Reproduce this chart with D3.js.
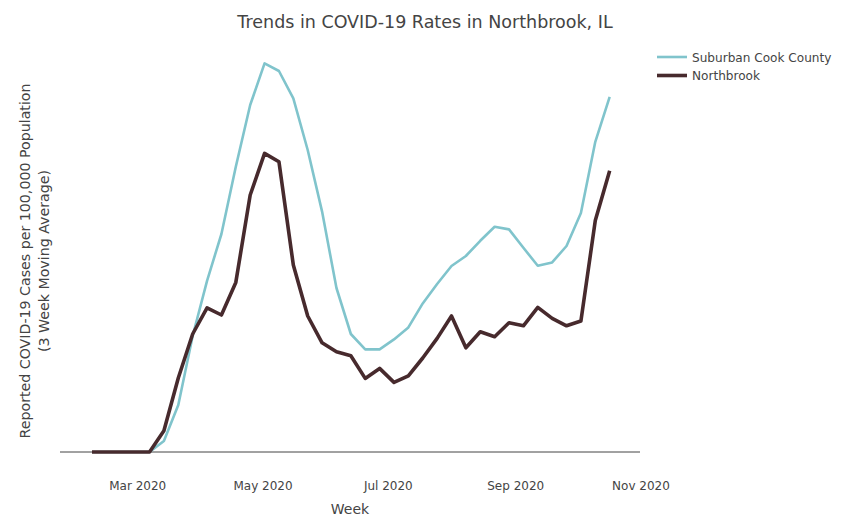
<!DOCTYPE html>
<html>
<head>
<meta charset="utf-8">
<script src="https://cdn.jsdelivr.net/npm/d3@7"></script>
<style>
  html, body { margin: 0; padding: 0; background: #fff; }
  svg { display: block; font-family: "DejaVu Sans", Verdana, sans-serif; }
</style>
</head>
<body>
<svg id="chart" width="843" height="523"></svg>
<script>
// ---- data ----
const weeks = [
  "2020-02-08","2020-02-15","2020-02-22","2020-02-29","2020-03-07","2020-03-14","2020-03-21","2020-03-28",
  "2020-04-04","2020-04-11","2020-04-18","2020-04-25","2020-05-02","2020-05-09","2020-05-16","2020-05-23",
  "2020-05-30","2020-06-06","2020-06-13","2020-06-20","2020-06-27","2020-07-04","2020-07-11","2020-07-18",
  "2020-07-25","2020-08-01","2020-08-08","2020-08-15","2020-08-22","2020-08-29","2020-09-05","2020-09-12",
  "2020-09-19","2020-09-26","2020-10-03","2020-10-10","2020-10-17"
];
const suburbanCook = [
  0, 0, 0, 0, 0, 5.5, 23.5, 58, 85.6, 109, 142.6, 173.5, 194.3, 190.5, 176.8, 151,
  120.2, 82, 59, 51.3, 51.3, 56.3, 62.3, 74.3, 84, 93, 98, 105.6, 112.6, 111.3, 102.1, 93.1,
  94.8, 103, 119.5, 155.1, 177.6
];
const northbrook = [
  0, 0, 0, 0, 0, 10.6, 37, 59, 72.1, 68.5, 84.8, 128.5, 149.3, 145.1, 93.5, 68,
  54.6, 50.1, 48.1, 36.8, 41.8, 34.8, 38.1, 47, 56.8, 68, 52.1, 60.1, 57.6, 64.6, 63.1, 72.3,
  66.8, 63.1, 65.5, 115.7, 140.6
];
const seriesNames = ["Suburban Cook County", "Northbrook"];
const tickDates = ["2020-03-01", "2020-05-01", "2020-07-01", "2020-09-01", "2020-11-01"];
const tickLabels = ["Mar 2020", "May 2020", "Jul 2020", "Sep 2020", "Nov 2020"];
const titleText = "Trends in COVID-19 Rates in Northbrook, IL";
const xTitle = "Week";
const yTitleLines = ["Reported COVID-19 Cases per 100,000 Population", "(3 Week Moving Average)"];

// ---- layout ----
const svg = d3.select("#chart");
const plot = { left: 60, right: 640, top: 60, bottom: 452 };
const colors = ["#80c4cc", "#472a2d"];
const widths = [2.6, 3.6];
const textColor = "#444";

const parse = d3.utcParse("%Y-%m-%d");
const dates = weeks.map(parse);

const x = d3.scaleUtc()
  .domain([new Date(Date.UTC(2020, 0, 23, 10)), new Date(Date.UTC(2020, 10, 1, 6))])
  .range([plot.left, plot.right + 1]);
const y = d3.scaleLinear().domain([0, 196]).range([plot.bottom, plot.top]);

// title
svg.append("text")
  .attr("x", 425).attr("y", 28)
  .attr("text-anchor", "middle")
  .attr("font-size", 17.5)
  .attr("fill", textColor)
  .text(titleText);

// x axis (labels only, no ticks)
const xAxis = d3.axisBottom(x)
  .tickValues(tickDates.map(parse))
  .tickFormat((d, i) => tickLabels[i])
  .tickSize(0)
  .tickPadding(29);
const gx = svg.append("g")
  .attr("transform", `translate(0,${plot.bottom})`)
  .call(xAxis);
gx.select(".domain").remove();
gx.selectAll("text")
  .attr("font-size", 12)
  .attr("fill", textColor)
  .attr("font-family", "DejaVu Sans, Verdana, sans-serif");

// zero line
svg.append("line")
  .attr("x1", plot.left).attr("x2", plot.right)
  .attr("y1", y(0)).attr("y2", y(0))
  .attr("stroke", "#444").attr("stroke-width", 1);

// x title
svg.append("text")
  .attr("x", (plot.left + plot.right) / 2).attr("y", 514)
  .attr("text-anchor", "middle")
  .attr("font-size", 14)
  .attr("fill", textColor)
  .text(xTitle);

// y title
const yt = svg.append("text")
  .attr("transform", `translate(30,${(plot.top + plot.bottom) / 2 + 5}) rotate(-90)`)
  .attr("text-anchor", "middle")
  .attr("font-size", 14.2)
  .attr("fill", textColor);
yt.append("tspan").attr("x", 0).attr("dy", 0).text(yTitleLines[0]);
yt.append("tspan").attr("x", 0).attr("dy", 19).text(yTitleLines[1]);

// lines
const line = d3.line()
  .x((d, i) => x(dates[i]))
  .y(d => y(d));
[suburbanCook, northbrook].forEach((vals, k) => {
  svg.append("path")
    .datum(vals)
    .attr("fill", "none")
    .attr("stroke", colors[k])
    .attr("stroke-width", widths[k])
    .attr("stroke-linejoin", "round")
    .attr("d", line);
});

// legend
const lg = svg.append("g").attr("transform", "translate(657,57)");
seriesNames.forEach((name, k) => {
  const g = lg.append("g").attr("transform", `translate(0,${k * 18.5})`);
  g.append("line")
    .attr("x1", 0).attr("x2", 30).attr("y1", 0).attr("y2", 0)
    .attr("stroke", colors[k]).attr("stroke-width", widths[k]);
  g.append("text")
    .attr("x", 35).attr("y", 4.5)
    .attr("font-size", 12.1)
    .attr("fill", textColor)
    .text(name);
});
</script>
</body>
</html>
